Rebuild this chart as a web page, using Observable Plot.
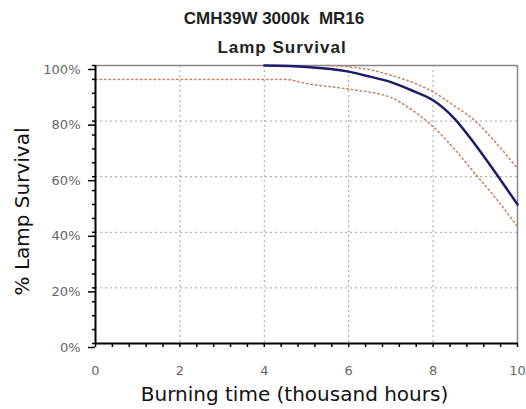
<!DOCTYPE html>
<html>
<head>
<meta charset="utf-8">
<script src="https://cdn.jsdelivr.net/npm/d3@7"></script>
<script src="https://cdn.jsdelivr.net/npm/@observablehq/plot@0.6"></script>
<style>
  html, body { margin: 0; padding: 0; background: #fff; }
  #wrap { width: 526px; height: 409px; position: relative; overflow: hidden; font-family: "Liberation Sans", Arial, sans-serif; }
  #title { height: 50px; position: relative; }
  .t { position: absolute; width: 300px; text-align: center; font-size: 17px; color: #222; font-weight: 600; }
  svg { display: block; }
</style>
</head>
<body>
<div id="wrap">
  <div id="title">
    <div class="t" id="t1" style="left:124px; top:9px;"></div>
    <div class="t" id="t2" style="left:132px; top:38px; letter-spacing:1px;"></div>
  </div>
  <div id="chart"></div>
</div>
<script>
// Median survival curve (thousand hours, % surviving)
const mainX = [4, 5, 6, 6.5, 7, 7.5, 8, 8.5, 9, 9.5, 10];
const mainY = [100, 99.5, 97.8, 96, 94, 91, 87.5, 81, 71.5, 61, 50];
// Upper confidence bound
const upperX = [5.5, 6, 6.5, 7, 7.5, 8, 8.5, 9, 9.5, 10];
const upperY = [100, 99.5, 98.5, 96.5, 94, 90.5, 85.5, 80, 72, 63];
// Lower confidence bound
const lowerX = [0, 4.5, 5, 6, 7, 7.5, 8, 8.5, 9, 9.5, 10];
const lowerY = [95, 95, 93.5, 91.5, 88.5, 84, 78, 70, 61, 52, 42];
// Tick labels
const xTicks = [0, 2, 4, 6, 8, 10];
const yTicks = [0, 20, 40, 60, 80, 100];
const titleText = "CMH39W 3000k\u00a0 MR16";
const subtitleText = "Lamp Survival";
const xLabel = "Burning time (thousand hours)";
const yLabel = "% Lamp Survival";

document.getElementById("t1").textContent = titleText;
document.getElementById("t2").textContent = subtitleText;

const toRows = (xs, ys) => xs.map((x, i) => ({x, y: ys[i]}));
const main = toRows(mainX, mainY);
const upper = toRows(upperX, upperY);
const lower = toRows(lowerX, lowerY);

const xMinor = d3.range(0, 26).map(i => +(i * 0.4).toFixed(2));
const yMinor = d3.range(0, 101, 5);
const labelFont = "DejaVu Sans";

const chart = Plot.plot({
  width: 526,
  height: 359,
  marginTop: 15,
  marginBottom: 66,
  marginLeft: 95,
  marginRight: 9,
  style: {fontFamily: "DejaVu Sans, sans-serif", background: "#fff"},
  x: {domain: [0, 10]},
  y: {domain: [0, 100]},
  marks: [
    Plot.gridX([2, 4, 6, 8], {stroke: "#a0a0a0", strokeOpacity: 1, strokeDasharray: "2,3"}),
    Plot.gridY([20, 40, 60, 80], {stroke: "#a0a0a0", strokeOpacity: 1, strokeDasharray: "2,3"}),
    Plot.ruleY([100], {stroke: "#888", strokeWidth: 1.5}),
    Plot.ruleX([10], {stroke: "#888", strokeWidth: 1.5}),
    Plot.line(lower, {x: "x", y: "y", stroke: "#c9805e", strokeWidth: 1.5, strokeDasharray: "1.5,3", curve: "monotone-x"}),
    Plot.line(upper, {x: "x", y: "y", stroke: "#c9805e", strokeWidth: 1.5, strokeDasharray: "1.5,3", curve: "monotone-x"}),
    Plot.line(main, {x: "x", y: "y", stroke: "#1c1c68", strokeWidth: 2.5, curve: "monotone-x"}),
    Plot.axisY(yMinor, {tickSize: 3, tickFormat: () => "", stroke: "#000", strokeWidth: 1.5, label: null}),
    Plot.axisY(yTicks, {tickSize: 7, tickPadding: 8, tickFormat: d => d + "%", stroke: "#000", strokeWidth: 1.5, fill: "#666", fontSize: 13, dy: 4, label: null}),
    Plot.axisX(xMinor, {tickSize: 4, tickFormat: () => "", stroke: "#000", strokeWidth: 1.5, label: null}),
    Plot.axisX(xTicks, {tickSize: 0, tickPadding: 22, fill: "#666", fontSize: 13, label: null}),
    Plot.ruleX([0], {stroke: "#000", strokeWidth: 2}),
    Plot.ruleY([0], {stroke: "#000", strokeWidth: 2}),
    Plot.text([xLabel], {frameAnchor: "bottom", textAnchor: "middle", dx: -12, dy: 57, fontSize: 20, fill: "#111", fontFamily: labelFont}),
    Plot.text([yLabel], {frameAnchor: "left", textAnchor: "middle", rotate: -90, dx: -73, dy: 7, fontSize: 20, fill: "#111", fontFamily: labelFont})
  ]
});
document.getElementById("chart").appendChild(chart);
</script>
</body>
</html>
